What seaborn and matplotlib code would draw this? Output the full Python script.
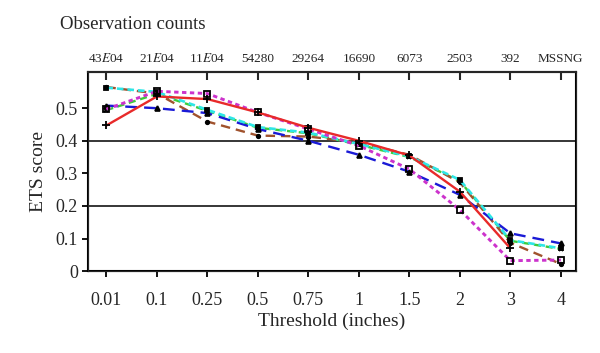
import numpy as np
import pandas as pd
import matplotlib
matplotlib.use("Agg")
import matplotlib.pyplot as plt
import seaborn as sns

thresholds = ["0.01", "0.1", "0.25", "0.5", "0.75", "1", "1.5", "2", "3", "4"]
obs_counts = ["43$E$04", "21$E$04", "11$E$04", "54280", "29264", "16690",
              "6073", "2503", "392", "MSSNG"]

# ETS scores (red stops at 3 inches)
ets_red = [0.447, 0.536, 0.528, 0.487, 0.440, 0.400, 0.355, 0.244, 0.070]
ets_blue = [0.508, 0.500, 0.485, 0.436, 0.400, 0.357, 0.305, 0.234, 0.116, 0.085]
ets_cyan = [0.563, 0.550, 0.495, 0.442, 0.425, 0.390, 0.352, 0.280, 0.095, 0.070]
ets_magenta = [0.497, 0.552, 0.545, 0.487, 0.436, 0.385, 0.313, 0.188, 0.032, 0.034]
ets_brown = [0.565, 0.545, 0.459, 0.416, 0.413, 0.395, 0.357, 0.272, 0.087, 0.022]
ets_green = [0.494, 0.544, 0.492, 0.440, 0.423, 0.388, 0.350, 0.276, 0.093, 0.068]

sns.set_style("ticks")
plt.rcParams["font.family"] = ["Liberation Serif", "DejaVu Serif"]
plt.rcParams["mathtext.fontset"] = "stix"

fig = plt.figure(figsize=(6, 3.53), dpi=100)
ax = fig.add_axes([0.147, 0.232, 0.813, 0.563])

ax.axhline(0.2, color="black", lw=1.1, zorder=1)
ax.axhline(0.4, color="black", lw=1.1, zorder=1)

series = [
    (ets_green, "#3ccc3c", (0, (3, 2)), 1.7, "x", "black", "black", 3),
    (ets_brown, "#a0522d", (0, (4, 2.5)), 1.7, "o", "black", "black", 2.5),
    (ets_blue, "#1a1ad6", (0, (5, 3)), 1.7, "^", "black", "black", 3.5),
    (ets_cyan, "#2ee6e6", (0, (2.5, 1.5)), 1.9, "s", "black", "black", 3),
    (ets_magenta, "#cc33cc", (0, (1.5, 1.2)), 2.1, "s", "none", "black", 4),
    (ets_red, "#e82a2a", "-", 1.7, "+", "black", "black", 5.5),
]
for vals, color, ls, lw, mk, mfc, mec, ms in series:
    x = np.arange(len(vals))
    sns.lineplot(x=x, y=vals, ax=ax, color=color, linestyle=ls, lw=lw,
                 marker=mk, markerfacecolor=mfc, markeredgecolor=mec,
                 markersize=ms, markeredgewidth=1.3, zorder=3)

ax.set_xlim(-0.36, 9.3)
ax.set_ylim(0, 0.61)
ax.set_xticks(range(len(thresholds)))
ax.set_xticklabels(thresholds, fontsize=13)
ax.set_yticks([0, 0.1, 0.2, 0.3, 0.4, 0.5])
ax.set_yticklabels(["0", "0.1", "0.2", "0.3", "0.4", "0.5"], fontsize=13)
ax.tick_params(axis="both", direction="out", length=4, width=1.3, color="black")
ax.tick_params(axis="x", pad=11)
ax.set_xlabel("Threshold (inches)", fontsize=14, labelpad=3)
ax.set_ylabel("ETS score", fontsize=14, labelpad=6)
for sp in ax.spines.values():
    sp.set_visible(True)
    sp.set_linewidth(1.5)
    sp.set_color("black")

top = ax.twiny()
top.set_xlim(ax.get_xlim())
top.set_xticks(range(len(obs_counts)))
top.set_xticklabels(obs_counts, fontsize=9.5)
top.tick_params(axis="x", direction="in", length=6, width=1.5, pad=5)
top.spines["top"].set_linewidth(1.5)

fig.text(0.1, 0.93, "Observation counts", fontsize=13.5, ha="left", va="center")

fig.savefig("out.png", dpi=100)
